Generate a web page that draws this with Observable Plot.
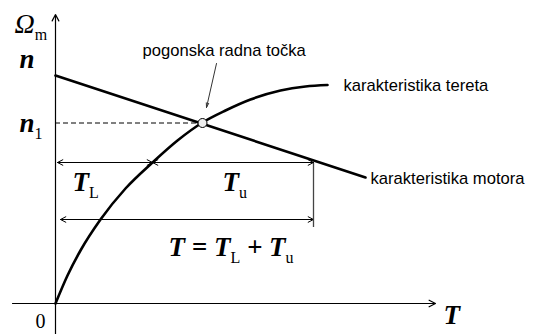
<!DOCTYPE html>
<html>
<head>
<meta charset="utf-8">
<script src="https://cdn.jsdelivr.net/npm/d3@7"></script>
<script src="https://cdn.jsdelivr.net/npm/@observablehq/plot@0.6"></script>
<style>
  html, body { margin: 0; padding: 0; background: #fff; }
  #chart svg { display: block; }
</style>
</head>
<body>
<div id="chart"></div>
<script>
// Torque (T) and speed (Ω) in arbitrary units.
// Motor characteristic: straight drooping line.
const motorT = [0, 31.0];
const motorW = [22.8, 12.6];

// Load characteristic: rising, saturating curve.
const loadT = [0, 1.2, 2.5, 4.5, 7.0, 9.7, 12.2, 14.7, 17.0, 19.5, 22.5, 25.0, 27.2];
const loadW = [0, 2.8, 5.3, 8.4, 11.5, 14.1, 16.3, 18.1, 19.3, 20.4, 21.3, 21.7, 21.85];

// Operating point (intersection) and torque split.
const opT = 14.7, opW = 18.05;
const loadTorque = 9.7;      // T_L
const totalTorque = 25.8;    // T = T_L + T_u
const rowTL = 14.1;          // height of the T_L / T_u dimension line
const rowT = 8.4;            // height of the total T dimension line

// Axis extents.
const axisT = [-4.3, 38.0];
const axisW = [-3.1, 28.9];

// Labels (underscore marks a one-character subscript).
const mathLabels = [
  {text: "n", T: -3.6, W: 23.6},
  {text: "n_1", T: -3.6, W: 17.2},
  {text: "T_L", T: 1.7, W: 11.3},
  {text: "T_u", T: 16.7, W: 11.3},
  {text: "T = T_L + T_u", T: 11.3, W: 4.8}
];
const omegaLabel = [{text: "Ω_m", T: -4.1, W: 27.1}];
const zeroLabel = [{text: "0", T: -1.5, W: -2.45}];
const axisLabel = [{text: "T", T: 38.8, W: -2.0}];
const notes = [
  {text: "pogonska radna točka", T: 8.7, W: 24.8},
  {text: "karakteristika tereta", T: 28.8, W: 21.3},
  {text: "karakteristika motora", T: 31.5, W: 12.0}
];
const pointer = [{T1: 16.1, W1: 24.0, T2: 15.1, W2: 19.6}];

const motor = motorT.map((t, i) => ({T: t, W: motorW[i]}));
const load = loadT.map((t, i) => ({T: t, W: loadW[i]}));

// Double-headed dimension arrows are drawn as two arrows from a midpoint.
function dimension(a, b, w) {
  const m = (a + b) / 2;
  return [{T1: m, T2: a, W: w}, {T1: m, T2: b, W: w}];
}
const dims = [
  ...dimension(0.2, loadTorque, rowTL),
  ...dimension(loadTorque, totalTorque, rowTL),
  ...dimension(0.5, totalTorque, rowT)
];

const serif = "'Liberation Serif', 'Times New Roman', serif";
const sans = "'Liberation Sans', Arial, sans-serif";

const plot = Plot.plot({
  width: 538,
  height: 334,
  margin: 0,
  x: {domain: [-5.5, 48.3], axis: null},
  y: {domain: [-3.1, 30.3], axis: null},
  style: {background: "#fff", color: "#000", overflow: "visible"},
  marks: [
    // axes
    Plot.arrow([{}], {x1: axisT[0], x2: axisT[1], y1: 0, y2: 0, stroke: "#000", strokeWidth: 1.2, headLength: 9, headAngle: 55}),
    Plot.arrow([{}], {x1: 0, x2: 0, y1: axisW[0], y2: axisW[1], stroke: "#000", strokeWidth: 1.2, headLength: 9, headAngle: 55}),
    // n1 guide
    Plot.ruleY([opW], {x1: 0, x2: opT, stroke: "#000", strokeWidth: 1, strokeDasharray: "5,3"}),
    // dimension lines
    Plot.arrow(dims, {x1: "T1", x2: "T2", y1: "W", y2: "W", stroke: "#000", strokeWidth: 1, headLength: 9, headAngle: 55}),
    Plot.ruleX([totalTorque], {y1: rowTL - 0.1, y2: rowT - 0.8, stroke: "#444", strokeWidth: 1.3}),
    // characteristics
    Plot.line(motor, {x: "T", y: "W", stroke: "#000", strokeWidth: 2.6}),
    Plot.line(load, {x: "T", y: "W", stroke: "#000", strokeWidth: 2.6, curve: "monotone-x"}),
    // operating point
    Plot.arrow(pointer, {x1: "T1", y1: "W1", x2: "T2", y2: "W2", stroke: "#333", strokeWidth: 1, headLength: 7, headAngle: 30}),
    Plot.dot([{T: opT, W: opW}], {x: "T", y: "W", r: 4.5, fill: "#eee", stroke: "#000", strokeWidth: 1}),
    // labels
    Plot.text(notes, {x: "T", y: "W", text: "text", textAnchor: "start", lineAnchor: "bottom", fontFamily: sans, fontSize: 16.6, fill: "#000"}),
    Plot.text(mathLabels, {x: "T", y: "W", text: "text", textAnchor: "start", lineAnchor: "bottom", fontFamily: serif, fontSize: 27, fontWeight: "bold", fontStyle: "italic", fill: "#000"}),
    Plot.text(omegaLabel, {x: "T", y: "W", text: "text", textAnchor: "start", lineAnchor: "bottom", fontFamily: serif, fontSize: 28, fontStyle: "italic", fill: "#000"}),
    Plot.text(zeroLabel, {x: "T", y: "W", text: "text", textAnchor: "middle", lineAnchor: "bottom", fontFamily: serif, fontSize: 20, fill: "#000"}),
    Plot.text(axisLabel, {x: "T", y: "W", text: "text", textAnchor: "start", lineAnchor: "bottom", fontFamily: serif, fontSize: 27, fontWeight: "bold", fontStyle: "italic", fill: "#000"})
  ]
});

document.getElementById("chart").appendChild(plot);

// Turn "_x" into a lowered, upright, smaller subscript.
d3.select(plot).selectAll("text").each(function () {
  const s = this.textContent;
  if (!s.includes("_")) return;
  const fs = parseFloat(getComputedStyle(this).fontSize);
  const shift = fs * 0.28;
  const el = d3.select(this).text(null);
  let lowered = false;
  for (const part of s.split(/(_.)/)) {
    if (!part) continue;
    if (part[0] === "_") {
      el.append("tspan")
        .attr("dy", shift)
        .attr("font-size", Math.min(fs * 0.6, 16))
        .attr("font-style", "normal")
        .attr("font-weight", "normal")
        .text(part.slice(1));
      lowered = true;
    } else {
      const t = el.append("tspan").text(part);
      if (lowered) { t.attr("dy", -shift); lowered = false; }
    }
  }
});
</script>
</body>
</html>
